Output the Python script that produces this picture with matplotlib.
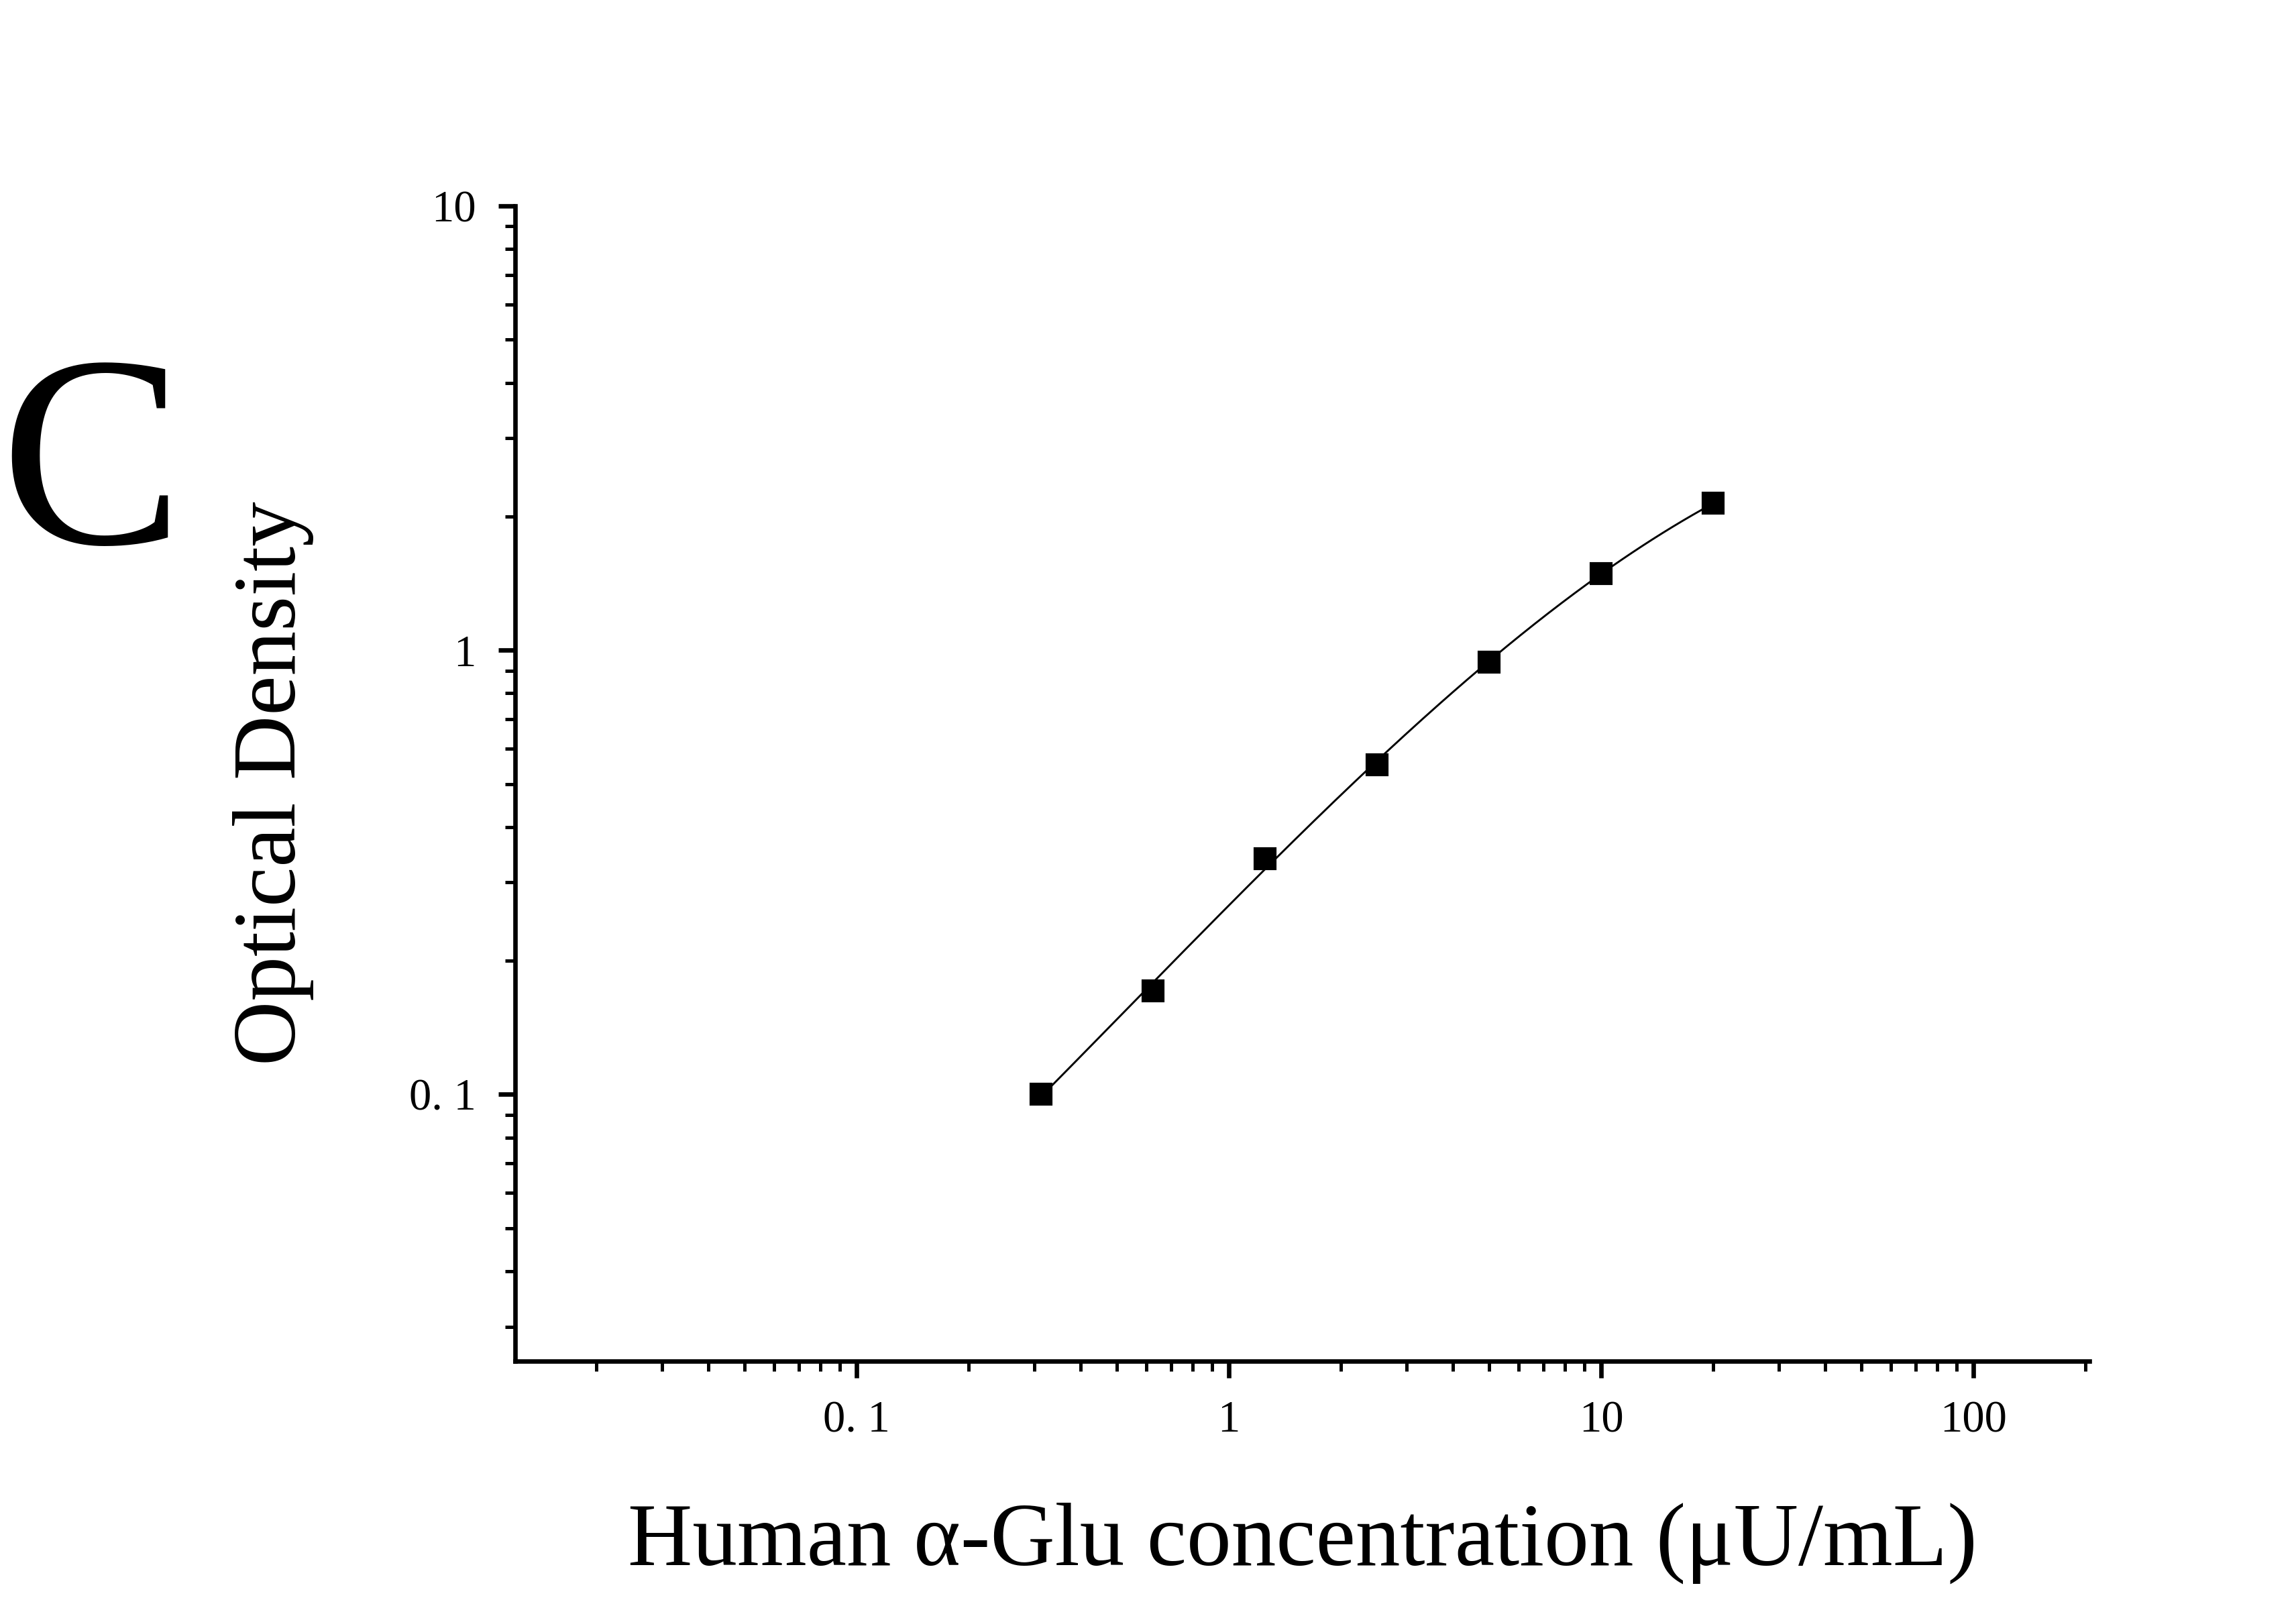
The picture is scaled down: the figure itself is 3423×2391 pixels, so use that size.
import numpy as np
import matplotlib
matplotlib.use("Agg")
import matplotlib.pyplot as plt
from matplotlib.ticker import LogLocator, FixedLocator, NullFormatter

conc = [0.3125, 0.625, 1.25, 2.5, 5, 10, 20]
od = [0.100, 0.171, 0.339, 0.552, 0.94, 1.49, 2.14]
xticks = [0.1, 1, 10, 100]
xticklabels = ["0. 1", "1", "10", "100"]
yticks = [0.1, 1, 10]
yticklabels = ["0. 1", "1", "10"]

plt.rcParams['font.family'] = ['Liberation Serif', 'DejaVu Serif']
fig = plt.figure(figsize=(3423/300, 2391/300), dpi=300)
ax = fig.add_axes([0.2244, 0.1514, 0.6856, 0.7202])

lx, ly = np.log10(conc), np.log10(od)
p = np.polyfit(lx, ly, 3)
xf = np.linspace(lx[0], lx[-1], 200)
ax.plot(10**xf, 10**np.polyval(p, xf), color='black', lw=0.7)
ax.plot(conc, od, 's', color='black', ms=7)

ax.set_xscale('log'); ax.set_yscale('log')
ax.set_xlim(0.0121, 205); ax.set_ylim(0.0251, 10)
for s in ['top', 'right']:
    ax.spines[s].set_visible(False)
for s in ['left', 'bottom']:
    ax.spines[s].set_linewidth(1.6)
ax.xaxis.set_major_locator(FixedLocator(xticks))
ax.set_xticklabels(xticklabels)
ax.yaxis.set_major_locator(FixedLocator(yticks))
ax.set_yticklabels(yticklabels)
ax.xaxis.set_minor_locator(LogLocator(base=10, subs=np.arange(2, 10)))
ax.yaxis.set_minor_locator(LogLocator(base=10, subs=np.arange(2, 10)))
ax.xaxis.set_minor_formatter(NullFormatter()); ax.yaxis.set_minor_formatter(NullFormatter())
ax.tick_params(which='major', direction='out', length=6, width=1.6, labelsize=16, pad=8)
ax.tick_params(which='minor', direction='out', length=3.5, width=1.2)
ax.set_xlabel('Human α-Glu concentration (μU/mL)', fontsize=32, labelpad=22)
ax.set_ylabel('Optical Density', fontsize=32, labelpad=34)
fig.text(0.0, 0.625, 'C', fontsize=98, ha='left', va='bottom')
fig.savefig('out.png', dpi=300)
